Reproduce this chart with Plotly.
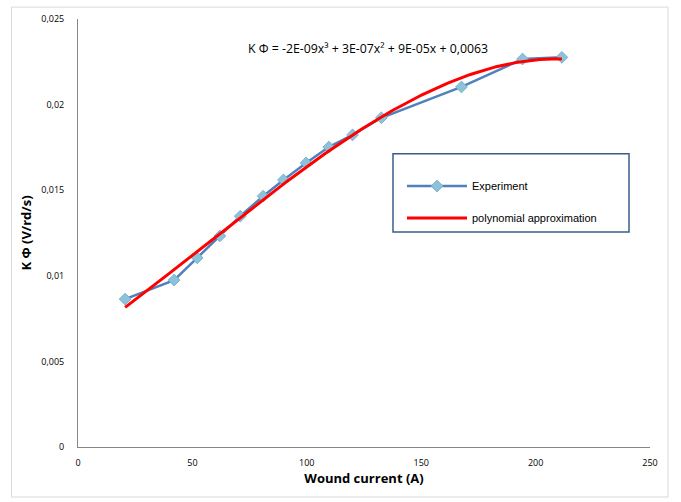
import numpy as np
import plotly.graph_objects as go

current_A = [20.6, 42.0, 52.1, 62.0, 70.9, 80.9, 89.8, 99.7, 109.6, 120.0, 132.6, 167.6, 194.3, 211.5]
k_phi = [0.00864, 0.00975, 0.01105, 0.01233, 0.01348, 0.01465, 0.01560, 0.01659, 0.01752, 0.01823, 0.01923, 0.02103, 0.02266, 0.02276]

x_ticks = [0, 50, 100, 150, 200, 250]
y_ticks = [0, 0.005, 0.01, 0.015, 0.02, 0.025]
y_tick_labels = ["0", "0,005", "0,01", "0,015", "0,02", "0,025"]
equation_text = "K Φ = -2E-09x³ + 3E-07x² + 9E-05x + 0,0063"

# Third-order polynomial trend line fitted to the experimental data
coef = np.polyfit(current_A, k_phi, 3)
xf = np.linspace(min(current_A), max(current_A), 200)
yf = np.polyval(coef, xf)

L, R, T, B = 78, 650, 15, 447
W, H = R - L, B - T


def px(x):
    return (x - L) / W


def py(y):
    return (B - y) / H


fig = go.Figure()
fig.add_trace(go.Scatter(
    x=current_A, y=k_phi, mode="lines+markers", name="Experiment",
    line=dict(color="#4F81BD", width=2.5),
    marker=dict(symbol="diamond", size=9, color="#8CC3DB", line=dict(color="#7AB0CF", width=1)),
    legendgroup="a",
))
fig.add_trace(go.Scatter(
    x=xf, y=yf, mode="lines", name="polynomial approximation",
    line=dict(color="#FF0000", width=3),
    legendgroup="b",
))

# outer chart border
fig.add_shape(type="rect", xref="paper", yref="paper",
              x0=px(11.5), x1=px(668), y0=py(497.5), y1=py(3),
              line=dict(color="#D9D9D9", width=1), layer="below")
# legend border
fig.add_shape(type="rect", xref="paper", yref="paper",
              x0=px(393), x1=px(629), y0=py(230), y1=py(151),
              line=dict(color="#385D8A", width=1.5))

fig.add_annotation(text=equation_text, xref="paper", yref="paper",
                   x=px(368), y=py(45), xanchor="center", yanchor="middle", showarrow=False,
                   font=dict(family="Open Sans", size=12.3, color="#000000"))

fig.update_layout(
    width=681, height=502,
    margin=dict(l=L, r=681 - R, t=T, b=502 - B),
    paper_bgcolor="white", plot_bgcolor="white",
    font=dict(family="Open Sans", color="#000000"),
    showlegend=True,
    legend=dict(x=px(402), y=py(169), xanchor="left", yanchor="top",
                bgcolor="rgba(0,0,0,0)", borderwidth=0,
                font=dict(family="Liberation Sans", size=11, color="#000000"),
                traceorder="grouped", tracegroupgap=13, itemwidth=60),
    xaxis=dict(range=[0, 250], tickvals=x_ticks, showgrid=False, zeroline=False,
               showline=True, linecolor="#868686", linewidth=1, ticks="",
               tickfont=dict(size=9, color="#000000"), ticklabelstandoff=7,
               title=dict(text="<b>Wound current (A)</b>", font=dict(size=13), standoff=5)),
    yaxis=dict(range=[0, 0.025], tickvals=y_ticks, ticktext=y_tick_labels, showgrid=False,
               zeroline=False, showline=True, linecolor="#868686", linewidth=1, ticks="",
               tickfont=dict(size=9, color="#000000"), ticklabelstandoff=11,
               title=dict(text="<b>K Φ (V/rd/s)</b>", font=dict(size=13), standoff=6)),
)

fig.write_html("out.html")
